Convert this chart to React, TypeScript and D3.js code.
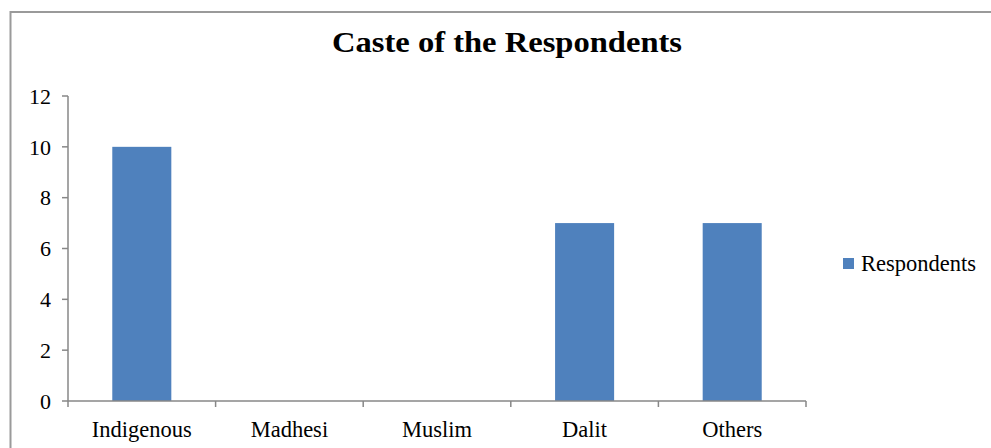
import React from "react";
import * as d3 from "d3";

const categories = ["Indigenous", "Madhesi", "Muslim", "Dalit", "Others"];
const respondents = [10, 0, 0, 7, 7];
const yTicks = [0, 2, 4, 6, 8, 10, 12];
const seriesName = "Respondents";
const title = "Caste of the Respondents";

const W = 991;
const H = 448;
const FONT = "'Liberation Serif', 'Times New Roman', serif";
const AXIS = "#878787";
const BAR = "#4F81BD";

export default function App() {
  const x = d3
    .scaleBand<string>()
    .domain(categories)
    .range([68, 806])
    .paddingInner(0.6)
    .paddingOuter(0.3);
  const step = x.step();
  const y = d3.scaleLinear().domain([0, 12]).range([401, 96]);
  const edges = d3.range(categories.length + 1).map((i) => 68 + i * step);

  return (
    <svg
      width={W}
      height={H}
      style={{ position: "absolute", left: 0, top: 0, background: "#fff" }}
    >
      <rect x={0} y={0} width={W} height={H} fill="#fff" />
      <rect
        x={10.5}
        y={12}
        width={W + 20}
        height={H + 20}
        fill="none"
        stroke="#9a9a9a"
        strokeWidth={2}
      />
      <text
        x={507}
        y={52}
        textAnchor="middle"
        fontFamily={FONT}
        fontWeight="bold"
        fontSize={29}
        textLength={350}
        lengthAdjust="spacingAndGlyphs"
        fill="#000"
      >
        {title}
      </text>

      {/* y axis */}
      <line x1={68} x2={68} y1={y(12)} y2={y(0)} stroke={AXIS} strokeWidth={1.5} />
      {yTicks.map((t) => (
        <g key={t}>
          <line x1={62} x2={68} y1={y(t)} y2={y(t)} stroke={AXIS} strokeWidth={1.5} />
          <text
            x={51}
            y={y(t)}
            dy="0.35em"
            textAnchor="end"
            fontFamily={FONT}
            fontSize={22}
            fill="#000"
          >
            {t}
          </text>
        </g>
      ))}

      {/* bars */}
      {categories.map((c, i) => (
        <rect
          key={c}
          x={x(c)}
          y={y(respondents[i])}
          width={x.bandwidth()}
          height={y(0) - y(respondents[i])}
          fill={BAR}
        />
      ))}

      {/* x axis */}
      <line x1={68} x2={806} y1={y(0)} y2={y(0)} stroke={AXIS} strokeWidth={1.5} />
      {edges.map((e, i) => (
        <line key={i} x1={e} x2={e} y1={y(0)} y2={y(0) + 6} stroke={AXIS} strokeWidth={1.5} />
      ))}
      {categories.map((c) => (
        <text
          key={c}
          x={(x(c) as number) + x.bandwidth() / 2}
          y={437}
          textAnchor="middle"
          fontFamily={FONT}
          fontSize={22.5}
          fill="#000"
        >
          {c}
        </text>
      ))}

      {/* legend */}
      <rect x={843} y={258} width={11} height={11} fill={BAR} />
      <text x={861} y={271} fontFamily={FONT} fontSize={22.5} fill="#000">
        {seriesName}
      </text>
    </svg>
  );
}
